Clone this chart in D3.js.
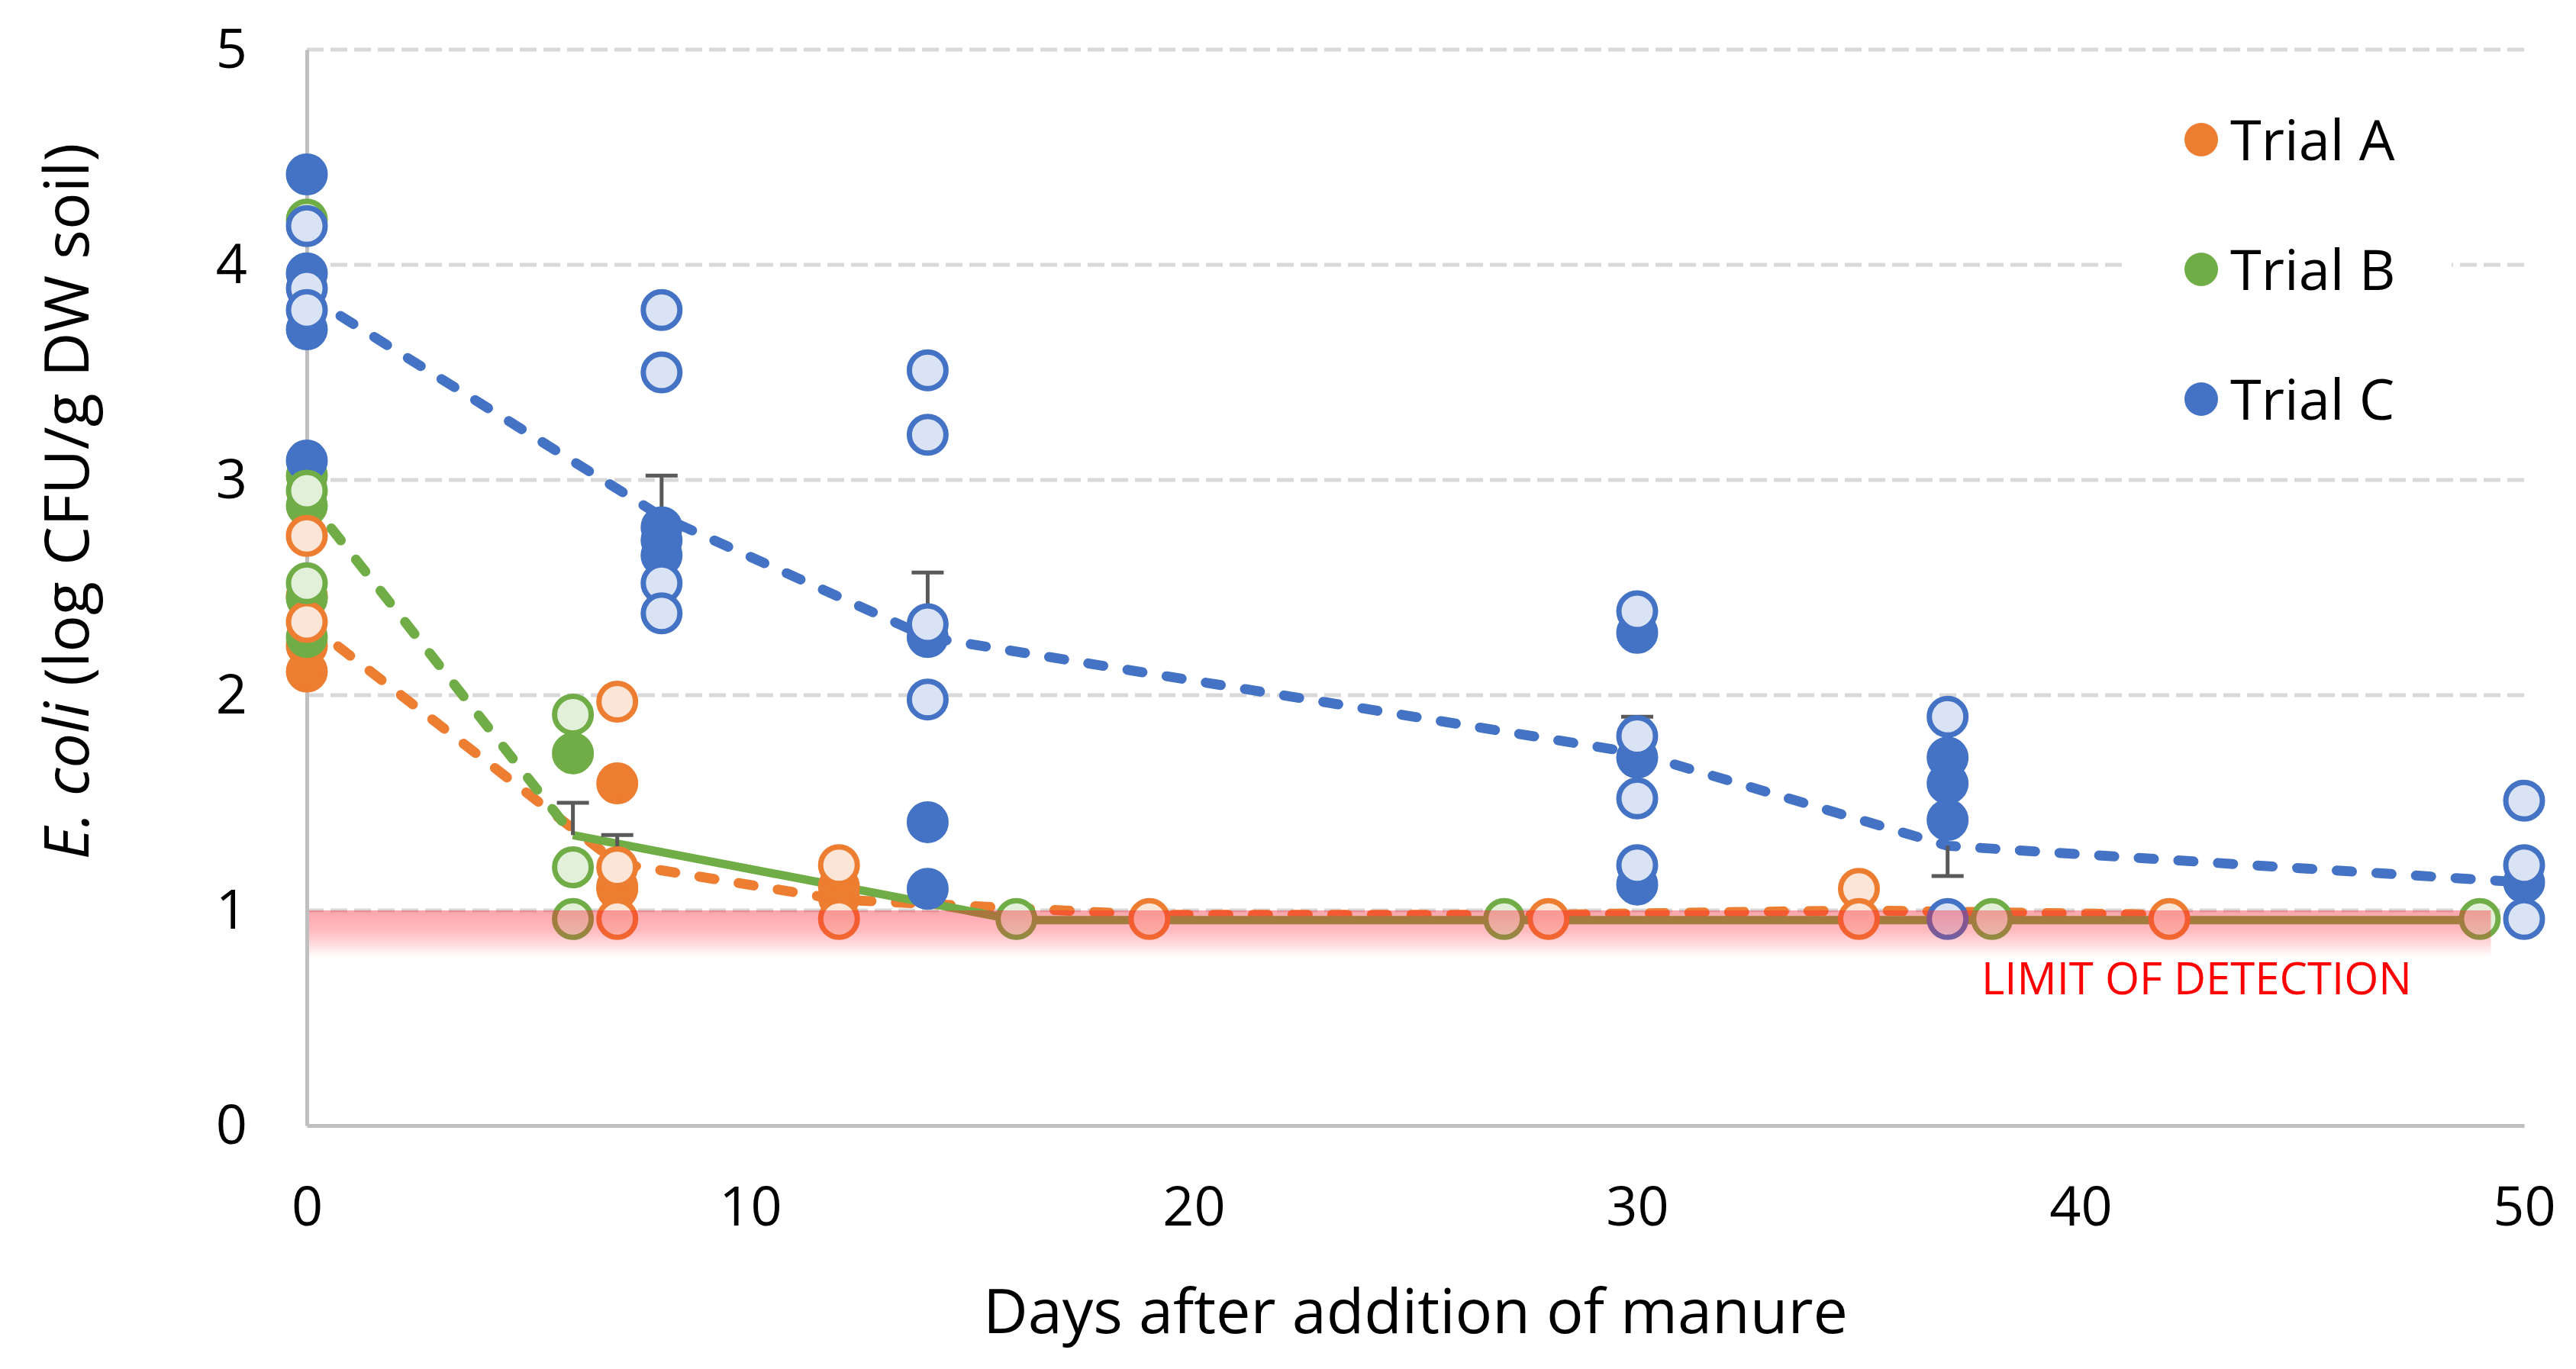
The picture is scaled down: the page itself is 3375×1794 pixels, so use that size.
<!DOCTYPE html>
<html>
<head>
<meta charset="utf-8">
<script src="https://cdn.jsdelivr.net/npm/d3@7"></script>
<style>
  html, body { margin: 0; padding: 0; background: #fff; }
  svg { display: block; font-family: "Open Sans", "Noto Sans", sans-serif; }
</style>
</head>
<body>
<svg id="chart" width="3375" height="1794"></svg>
<script>
// --- data ---
var yTicks = [0, 1, 2, 3, 4, 5];
var xTicks = [0, 10, 20, 30, 40, 50];
var lod = 1;

// individual counts [day, log CFU]; "solid" and "light" are the two plots per trial
var solidA = [[0, 2.46], [0, 2.23], [0, 2.11], [7, 1.59], [7, 1.11], [7, 1.10], [12, 1.11], [12, 1.06]];
var lightA = [[0, 2.74], [0, 2.34], [7, 1.97], [7, 1.20], [7, 0.96], [12, 1.21], [12, 0.96],
  [19, 0.96], [28, 0.96], [35, 1.10], [35, 0.96], [42, 0.96]];

var solidB = [[0, 3.02], [0, 2.88], [0, 2.45], [0, 2.27], [6, 1.73]];
var lightB = [[0, 4.21], [0, 2.95], [0, 2.52], [6, 1.91], [6, 1.20], [6, 0.96],
  [16, 0.96], [27, 0.96], [38, 0.96], [49, 0.96]];

var solidC = [[0, 4.42], [0, 3.96], [0, 3.70], [0, 3.09], [8, 2.78], [8, 2.72], [8, 2.65],
  [14, 2.27], [14, 1.41], [14, 1.10], [30, 2.29], [30, 1.71], [30, 1.12],
  [37, 1.71], [37, 1.59], [37, 1.42], [50, 1.13]];
var lightC = [[0, 4.18], [0, 3.89], [0, 3.79], [8, 3.79], [8, 3.50], [8, 2.52], [8, 2.38],
  [14, 3.51], [14, 3.21], [14, 2.33], [14, 1.98], [30, 2.39], [30, 1.81], [30, 1.52], [30, 1.21],
  [37, 1.90], [37, 0.96], [50, 1.51], [50, 1.21], [50, 0.96]];

// mean curves
var meanA = [[0, 2.34], [7, 1.22], [12, 1.05], [19, 0.98], [28, 0.98], [35, 1.00], [42, 0.98]];
var meanB = [[0, 2.92], [6, 1.35], [16, 0.955], [27, 0.955], [38, 0.955], [49, 0.955]];
var meanC = [[0, 3.86], [8, 2.83], [14, 2.27], [30, 1.73], [37, 1.30], [50, 1.13]];

// one-sided error bars [day, mean, end]
var errA = [[7, 1.22, 1.35]];
var errB = [[6, 1.35, 1.50]];
var errC = [[8, 2.83, 3.02], [14, 2.27, 2.57], [30, 1.73, 1.90], [37, 1.30, 1.16]];

var trials = ["Trial A", "Trial B", "Trial C"];

// --- styling ---
var colors = { A: "#ED7D31", B: "#70AD47", C: "#4472C4" };
var lightFill = { A: "#FBE5D6", B: "#E2F0D9", C: "#DAE3F3" };

var svg = d3.select("#chart");

var x = d3.scaleLinear().domain([0, 50]).range([402, 3307]);
var y = d3.scaleLinear().domain([0, 5]).range([1475, 65]);

// gridlines
svg.append("g")
  .selectAll("line")
  .data(yTicks.filter(d => d > 0))
  .enter()
  .append("line")
  .attr("x1", x(0))
  .attr("x2", x(50))
  .attr("y1", d => y(d))
  .attr("y2", d => y(d))
  .attr("stroke", "#D9D9D9")
  .attr("stroke-width", 5)
  .attr("stroke-dasharray", "22,9");

// axes
var yAxis = svg.append("g")
  .attr("transform", `translate(${x(0)},0)`)
  .call(d3.axisLeft(y).tickValues(yTicks).tickFormat(d3.format("d"))
    .tickSize(0).tickSizeOuter(0).tickPadding(78));
var xAxis = svg.append("g")
  .attr("transform", `translate(0,${y(0)})`)
  .call(d3.axisBottom(x).tickValues(xTicks).tickFormat(d3.format("d"))
    .tickSize(0).tickSizeOuter(0).tickPadding(80));

[yAxis, xAxis].forEach(function(a) {
  a.select(".domain").attr("stroke", "#BFBFBF").attr("stroke-width", 5);
  a.selectAll("text")
    .attr("font-family", "Open Sans")
    .attr("font-size", 72)
    .attr("fill", "#000");
});

// mean lines
var line = d3.line().x(d => x(d[0])).y(d => y(d[1]));
var lineG = svg.append("g").attr("fill", "none").attr("stroke-width", 13);
var dash = "20,32";

lineG.append("path")
  .attr("d", line(meanA))
  .attr("stroke", colors.A)
  .attr("stroke-linecap", "round")
  .attr("stroke-dasharray", dash);
lineG.append("path")
  .attr("d", line(meanB.slice(1)))
  .attr("stroke", colors.B)
  .attr("stroke-width", 11);
lineG.append("path")
  .attr("d", line(meanB.slice(0, 2)))
  .attr("stroke", colors.B)
  .attr("stroke-linecap", "round")
  .attr("stroke-dasharray", dash);
lineG.append("path")
  .attr("d", line(meanC))
  .attr("stroke", colors.C)
  .attr("stroke-linecap", "round")
  .attr("stroke-dasharray", dash);

// error bars
var capHalf = 21;
var errG = svg.append("g").attr("stroke", "#595959").attr("stroke-width", 5);
errA.concat(errB, errC).forEach(function(e) {
  errG.append("line")
    .attr("x1", x(e[0])).attr("x2", x(e[0]))
    .attr("y1", y(e[1])).attr("y2", y(e[2]));
  errG.append("line")
    .attr("x1", x(e[0]) - capHalf).attr("x2", x(e[0]) + capHalf)
    .attr("y1", y(e[2])).attr("y2", y(e[2]));
});

// markers: solid plots first, light plots on top
var markerSets = [
  { data: solidA, stroke: colors.A, fill: colors.A },
  { data: solidB, stroke: colors.B, fill: colors.B },
  { data: solidC, stroke: colors.C, fill: colors.C },
  { data: lightA, stroke: colors.A, fill: lightFill.A },
  { data: lightB, stroke: colors.B, fill: lightFill.B },
  { data: lightC, stroke: colors.C, fill: lightFill.C }
];
var markG = svg.append("g");
markerSets.forEach(function(s) {
  markG.append("g")
    .selectAll("circle")
    .data(s.data)
    .enter()
    .append("circle")
    .attr("cx", d => x(d[0]))
    .attr("cy", d => y(d[1]))
    .attr("r", 24)
    .attr("fill", s.fill)
    .attr("stroke", s.stroke)
    .attr("stroke-width", 7);
});

// limit of detection band (translucent, over the data)
var defs = svg.append("defs");
var grad = defs.append("linearGradient")
  .attr("id", "lodGrad")
  .attr("x1", 0).attr("x2", 0).attr("y1", 0).attr("y2", 1);
grad.append("stop").attr("offset", "0%").attr("stop-color", "#FF2030").attr("stop-opacity", 0.4);
grad.append("stop").attr("offset", "45%").attr("stop-color", "#FF2030").attr("stop-opacity", 0.3);
grad.append("stop").attr("offset", "100%").attr("stop-color", "#FF2030").attr("stop-opacity", 0);

svg.append("rect")
  .attr("x", x(0) + 3)
  .attr("y", y(lod))
  .attr("width", x(49.25) - x(0) - 3)
  .attr("height", y(0.78) - y(lod))
  .attr("fill", "url(#lodGrad)");

svg.append("text")
  .attr("x", 2878)
  .attr("y", 1303)
  .attr("text-anchor", "middle")
  .attr("font-size", 58)
  .attr("fill", "#FF0000")
  .text("LIMIT OF DETECTION");

// legend
var legend = svg.append("g");
legend.append("rect")
  .attr("x", 2788).attr("y", 120)
  .attr("width", 424).attr("height", 480)
  .attr("fill", "#fff");
var legendRows = legend.selectAll(".row")
  .data(trials)
  .enter()
  .append("g")
  .attr("transform", (d, i) => `translate(2884,${183 + i * 170})`);
legendRows.append("circle")
  .attr("r", 22)
  .attr("fill", (d, i) => colors["ABC"[i]]);
legendRows.append("text")
  .attr("x", 38)
  .attr("dy", "0.36em")
  .attr("font-size", 74)
  .attr("fill", "#000")
  .text(d => d);

// axis titles
svg.append("text")
  .attr("x", (x(0) + x(50)) / 2)
  .attr("y", 1747)
  .attr("text-anchor", "middle")
  .attr("font-size", 81)
  .attr("fill", "#000")
  .text("Days after addition of manure");

var yTitle = svg.append("text")
  .attr("transform", "translate(116,657) rotate(-90)")
  .attr("text-anchor", "middle")
  .attr("font-size", 81)
  .attr("fill", "#000");
yTitle.append("tspan").attr("font-style", "italic").text("E. coli");
yTitle.append("tspan").text(" (log CFU/g DW soil)");
</script>
</body>
</html>
